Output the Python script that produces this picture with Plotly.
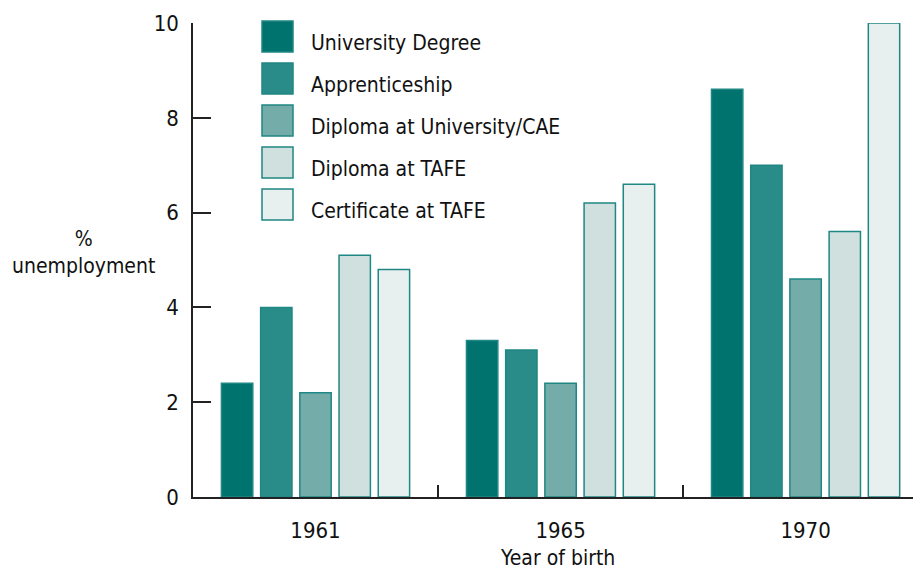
import plotly.graph_objects as go

years = ["1961", "1965", "1970"]
series_names = ["University Degree", "Apprenticeship", "Diploma at University/CAE",
                "Diploma at TAFE", "Certificate at TAFE"]
university_degree = [2.4, 3.3, 8.6]
apprenticeship = [4.0, 3.1, 7.0]
diploma_uni_cae = [2.2, 2.4, 4.6]
diploma_tafe = [5.1, 6.2, 5.6]
certificate_tafe = [4.8, 6.6, 10.0]
y_ticks = [0, 2, 4, 6, 8, 10]

values = [university_degree, apprenticeship, diploma_uni_cae, diploma_tafe, certificate_tafe]
fills = ["#00736F", "#2A8C89", "#74ACA9", "#D0E0DF", "#E8EFEF"]
edge = "#1F8784"
FONT = "Liberation Sans Narrow, DejaVu Sans Condensed, Roboto Condensed, Arial Narrow, sans-serif"

# page offset (browser body margin) compensation
OFF = 8
PL, PT, PW, PH = 193, 23, 728, 474  # plot area in page pixels


def px(x):
    return (x - PL) / PW


def py(y):
    return 1 - (y - PT) / PH


fig = go.Figure()
for name, vals, col in zip(series_names, values, fills):
    fig.add_trace(go.Bar(x=years, y=vals, name=name,
                         marker=dict(color=col, line=dict(color=edge, width=1.5)),
                         showlegend=False))

# custom legend (large swatches)
for i, (name, col) in enumerate(zip(series_names, fills)):
    y0 = 21 + i * 42
    fig.add_shape(type="rect", xref="paper", yref="paper",
                  x0=px(262), x1=px(293), y0=py(y0 + 31), y1=py(y0),
                  fillcolor=col, line=dict(color=edge, width=1.5))
    fig.add_annotation(text=name, xref="paper", yref="paper", x=px(309),
                       y=py(y0 + 22), xanchor="left", yanchor="middle",
                       showarrow=False, font=dict(size=21, color="#111"))

fig.add_annotation(text="%<br>unemployment", xref="paper", yref="paper", x=px(83),
                   y=py(252), xanchor="center", yanchor="middle", showarrow=False,
                   font=dict(size=21, color="#111"))
fig.add_annotation(text="Year of birth", xref="paper", yref="paper", x=px(557),
                   y=py(558), xanchor="center", yanchor="middle", showarrow=False,
                   font=dict(size=21, color="#111"))

fig.update_layout(
    width=921 - OFF, height=571 - OFF,
    margin=dict(l=PL - OFF, r=0, t=PT - OFF, b=571 - PT - PH, autoexpand=False),
    plot_bgcolor="white", paper_bgcolor="white",
    font=dict(family=FONT, size=22, color="#111"),
    barmode="group", bargap=0.2, bargroupgap=0.2,
    xaxis=dict(type="category", range=[-0.5, 2.471], tickson="boundaries", ticks="inside",
               ticklen=12, tickwidth=1.5, tickcolor="#222", showline=True, linecolor="#222",
               linewidth=1.5, showgrid=False, ticklabelstandoff=13),
    yaxis=dict(range=[0, 10], tickvals=y_ticks, ticks="inside", ticklen=18, tickwidth=1.5,
               tickcolor="#222", showline=True, linecolor="#222", linewidth=1.5,
               showgrid=False, zeroline=False, ticklabelstandoff=8),
)

fig.write_html("out.html")
